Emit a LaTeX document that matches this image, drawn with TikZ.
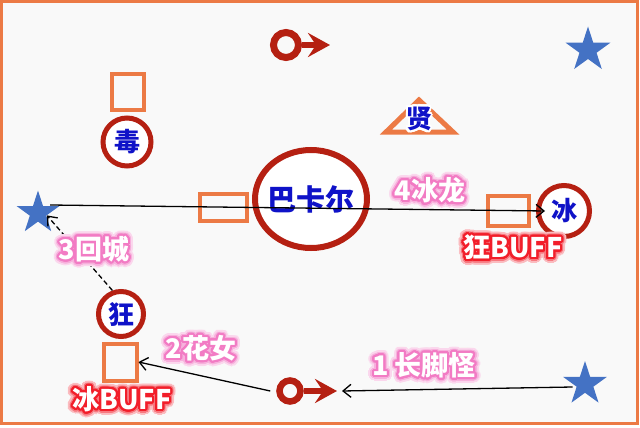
\documentclass[tikz,border=0pt]{standalone}
\usepackage{fontspec}
\setmainfont{Noto Sans CJK SC}[BoldFont={Noto Sans CJK SC Black}]
\usepackage{contour}
\usetikzlibrary{shapes.geometric,arrows.meta}
\contournumber{32}
\definecolor{ringred}{HTML}{B52012}
\definecolor{slotorange}{HTML}{EC7A45}
\definecolor{starblue}{HTML}{4472C4}
\definecolor{hanblue}{HTML}{0F12C8}
\definecolor{framebg}{HTML}{F9F9F9}
\definecolor{glowpink}{HTML}{F27BC4}
\definecolor{glowred}{HTML}{F21E2A}
\newcommand\glowtxt[2]{%
  \makebox[0pt][l]{\contourlength{5.5pt}\contour{#1!30}{\color{#1!30}#2}}%
  \makebox[0pt][l]{\contourlength{3.5pt}\contour{#1!60}{\color{#1!60}#2}}%
  \contourlength{2pt}\contour{#1}{\color{white}#2}}

\begin{document}
\begin{tikzpicture}[x=1pt,y=-1pt,
    ring/.style={circle,draw=ringred,line width=5pt,inner sep=0pt},
    chip/.style={ring,fill=white,text=hanblue,font=\bfseries\fontsize{26}{28}\selectfont},
    slot/.style={rectangle,draw=slotorange,line width=4pt,inner sep=0pt},
    spot/.style={star,star points=5,star point ratio=2.618,fill=starblue,inner sep=0pt},
    link/.style={black,line width=1.3pt,-{Straight Barb[length=8pt,width=13pt]}},
    tail/.style={ringred,line width=6pt,-{Stealth[length=22pt,width=24pt,inset=8pt]}},
    tag/.style={inner sep=0pt,font=\bfseries\fontsize{27}{30}\selectfont}]
  \fill[white] (0,0) rectangle (640,428);
  \draw[slotorange,line width=3pt,fill=framebg] (1.5,1.5) rectangle (637,423);
  \useasboundingbox (0,0) rectangle (640,428);

  \node[ring,line width=7pt,minimum size=25pt] (tmale) at (286,45) {};
  \coordinate (ttip) at (330,45);
  \draw[tail] (tmale.east) -- (ttip);
  \node[ring,line width=6.5pt,minimum size=21pt] (bmale) at (290,391) {};
  \coordinate (btip) at (337,391);
  \draw[tail] (bmale.east) -- (btip);

  \node[spot,minimum size=47pt] (trstar) at (588,50) {};
  \node[spot,minimum size=45pt] (lstar) at (38,213) {};
  \node[spot,minimum size=46pt] (brstar) at (585,384) {};

  \node[slot,minimum width=32pt,minimum height=35pt] (tslot) at (128,92) {};
  \node[slot,minimum width=47pt,minimum height=27pt] (mslot) at (223,207) {};
  \node[slot,minimum width=41pt,minimum height=30pt] (rslot) at (508,211) {};
  \node[slot,minimum width=33pt,minimum height=37pt] (bslot) at (120,362) {};

  \node[chip,minimum size=48pt] (du) at (127,142) {毒};
  \node[chip,minimum size=45pt] (kuang) at (121,314) {狂};
  \node[chip,minimum size=51pt] (bing) at (564,211) {冰};
  \node[ring,ellipse,fill=white,line width=6pt,minimum width=112pt,minimum height=98pt] (bakar) at (311,199) {};
  \node[text=hanblue,font=\bfseries\fontsize{29}{31}\selectfont] (bakarname) at (bakar.center) {巴卡尔};

  \draw[slotorange,line width=5pt] (386,132) -- (419,100) -- (453,132) -- cycle;
  \node[text=hanblue,font=\bfseries\fontsize{26}{28}\selectfont] (xian) at (419,120) {\contourlength{2pt}\contour{white}{贤}};

  \draw[link] ([yshift=-3pt]brstar.west) -- ([xshift=5pt]btip);
  \draw[link] ([xshift=-6pt]bmale.west) -- (bslot.east);
  \draw[link,dash pattern=on 5pt off 3pt] (kuang.110) -- (lstar.-15);
  \draw[link] ([yshift=8pt]lstar.east) -- ([xshift=9pt]bing.west);

  \node[tag] (walk1) at (424,368) {\glowtxt{glowpink}{1 长脚怪}};
  \node[tag] (walk2) at (201,351) {\glowtxt{glowpink}{2花女}};
  \node[tag] (walk3) at (94,252) {\glowtxt{glowpink}{3回城}};
  \node[tag] (walk4) at (430,193) {\glowtxt{glowpink}{4冰龙}};
  \node[tag] (icebuff) at (122,402) {\glowtxt{glowred}{冰BUFF}};
  \node[tag] (ragebuff) at (513,250) {\glowtxt{glowred}{狂BUFF}};
\end{tikzpicture}
\end{document}
